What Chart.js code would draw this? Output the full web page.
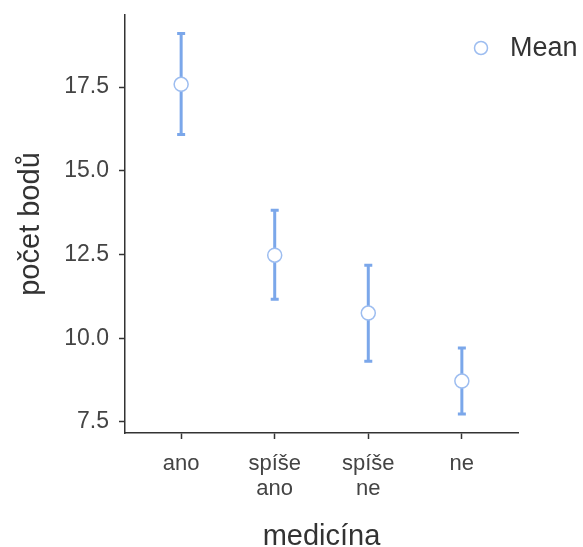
<!DOCTYPE html>
<html>
<head>
<meta charset="utf-8">
<script src="https://cdn.jsdelivr.net/npm/chart.js@4"></script>
<style>
  html, body { margin: 0; padding: 0; background: #fff; }
  #wrap { width: 583px; height: 547px; }
</style>
</head>
<body>
<div id="wrap"><canvas id="chart" width="583" height="547"></canvas></div>
<script>
// data
const categories = [['ano'], ['spíše', 'ano'], ['spíše', 'ne'], ['ne']];
const means = [17.58, 12.48, 10.75, 8.72];
const lower = [16.08, 11.16, 9.31, 7.74];
const upper = [19.10, 13.82, 12.18, 9.71];
const yTicks = [7.5, 10.0, 12.5, 15.0, 17.5];

const blue = '#7ba7ea';
const pointBorder = '#9dbdf0';
const textCol = '#444';
const font = '"Liberation Sans", Arial, sans-serif';

const errorBars = {
    id: 'errorBars',
    beforeDatasetsDraw(chart) {
        const ctx = chart.ctx;
        const xs = chart.scales.x, ys = chart.scales.y;
        ctx.save();
        ctx.strokeStyle = blue;
        ctx.lineWidth = 3;
        means.forEach((m, i) => {
            const x = xs.getPixelForValue(i);
            const yl = ys.getPixelForValue(lower[i]);
            const yu = ys.getPixelForValue(upper[i]);
            ctx.beginPath();
            ctx.moveTo(x, yl); ctx.lineTo(x, yu);
            ctx.moveTo(x - 4, yl); ctx.lineTo(x + 4, yl);
            ctx.moveTo(x - 4, yu); ctx.lineTo(x + 4, yu);
            ctx.stroke();
        });
        ctx.restore();
    }
};

const legendMean = {
    id: 'legendMean',
    afterDraw(chart) {
        const ctx = chart.ctx;
        ctx.save();
        ctx.beginPath();
        ctx.arc(481, 48, 6.5, 0, Math.PI * 2);
        ctx.fillStyle = '#fff';
        ctx.fill();
        ctx.strokeStyle = pointBorder;
        ctx.lineWidth = 1.5;
        ctx.stroke();
        ctx.fillStyle = '#333';
        ctx.font = '27px ' + font;
        ctx.textBaseline = 'middle';
        ctx.fillText('Mean', 510, 49);
        ctx.restore();
    }
};

new Chart(document.getElementById('chart'), {
    type: 'scatter',
    data: {
        datasets: [{
            label: 'Mean',
            data: means.map((m, i) => ({ x: i, y: m })),
            pointRadius: 7,
            pointBackgroundColor: '#fff',
            pointBorderColor: pointBorder,
            pointBorderWidth: 1.5
        }]
    },
    options: {
        responsive: false,
        animation: false,
        layout: { padding: { top: 15, right: 65, bottom: 0, left: 0 } },
        plugins: {
            legend: { display: false },
            tooltip: { enabled: false }
        },
        scales: {
            x: {
                type: 'linear',
                min: -0.6,
                max: 3.6,
                afterBuildTicks: (scale) => { scale.ticks = [0, 1, 2, 3].map(v => ({ value: v })); },
                afterFit: (scale) => { scale.height = 114; },
                ticks: {
                    callback: (v) => categories[v],
                    color: textCol,
                    font: { family: font, size: 22, lineHeight: 1.12 },
                    padding: 13,
                    maxRotation: 0,
                    autoSkip: false
                },
                grid: { drawOnChartArea: false, tickLength: 6, tickWidth: 1.5, color: '#333' },
                border: { color: '#333', width: 1.5 },
                title: {
                    display: true,
                    text: 'medicína',
                    color: '#333',
                    font: { family: font, size: 29 },
                    padding: { top: 0, bottom: -7 }
                }
            },
            y: {
                min: 7.17,
                max: 19.65,
                afterBuildTicks: (scale) => { scale.ticks = yTicks.map(v => ({ value: v })); },
                afterFit: (scale) => { scale.width = 125; scale.paddingTop = 0; },
                ticks: {
                    callback: (v) => v.toFixed(1),
                    color: textCol,
                    font: { family: font, size: 23 },
                    padding: 10
                },
                grid: { drawOnChartArea: false, tickLength: 6, tickWidth: 1.5, color: '#333' },
                border: { color: '#333', width: 1.5 },
                title: {
                    display: true,
                    text: 'počet bodů',
                    color: '#333',
                    font: { family: font, size: 29 },
                    padding: { top: 14, bottom: 0 }
                }
            }
        }
    },
    plugins: [errorBars, legendMean]
});
</script>
</body>
</html>
